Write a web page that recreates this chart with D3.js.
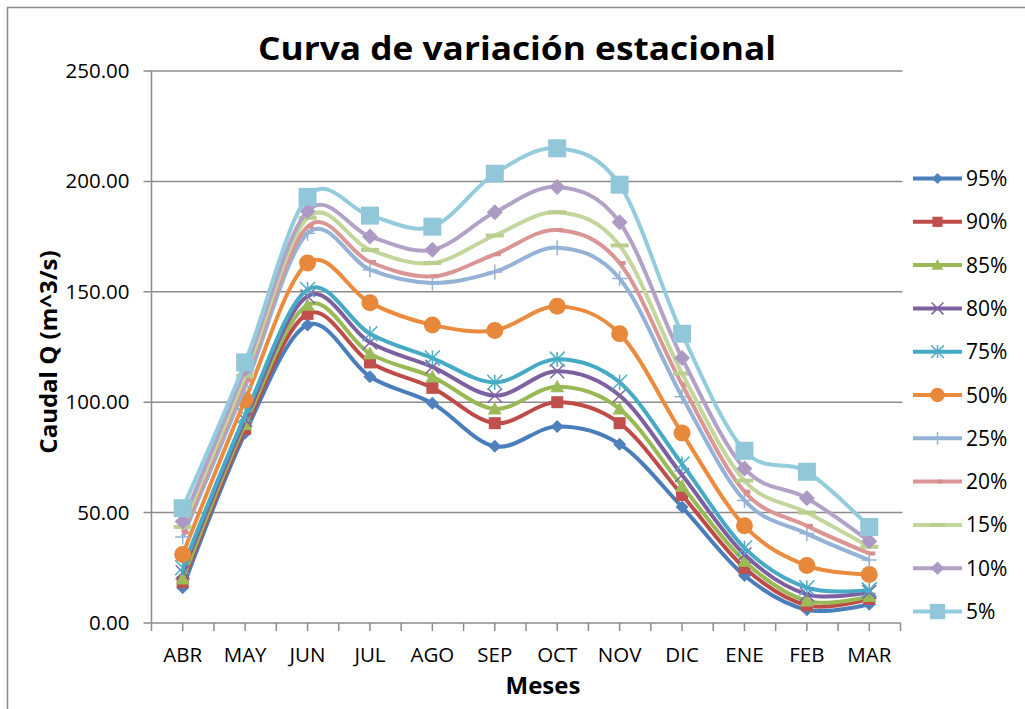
<!DOCTYPE html>
<html>
<head>
    <title>Curva de variación estacional</title>
    <script src="https://cdnjs.cloudflare.com/ajax/libs/d3/7.8.5/d3.min.js"></script>
    <style>
        body { margin: 0; background: #FFFFFF; }
        #chart text { font-family: "Open Sans", "DejaVu Sans", sans-serif; fill: #000; }
        .grid { stroke: #8c8c8c; stroke-width: 1.5px; }
        .axis-line { stroke: #8c8c8c; stroke-width: 1.5px; }
        .series-line { fill: none; stroke-width: 4px; }
    </style>
</head>
<body>
    <div id="chart"></div>
    <script>
const months = ['ABR', 'MAY', 'JUN', 'JUL', 'AGO', 'SEP', 'OCT', 'NOV', 'DIC', 'ENE', 'FEB', 'MAR'];
const seriesNames = ['95%', '90%', '85%', '80%', '75%', '50%', '25%', '20%', '15%', '10%', '5%'];

const q95 = [16, 86, 135, 111.5, 99.5, 80, 89, 81, 52.5, 21.5, 6, 8.5];
const q90 = [18.5, 88, 140, 118, 106.5, 90.5, 100, 90.5, 58, 25, 8, 11];
const q85 = [20, 90, 144, 122, 111.5, 97, 107, 97, 62, 28, 10, 12];
const q80 = [23, 92, 148, 127, 116, 103, 114, 103, 67, 31, 13, 14];
const q75 = [25, 94, 151, 131, 120, 109, 119.5, 109, 72, 34, 16, 15];
const q50 = [31, 101, 163, 145, 135, 132.5, 143.5, 131, 86, 44, 26, 22];
const q25 = [39, 107, 176.5, 160, 154, 159, 170, 156, 102.5, 55.5, 40.5, 28.5];
const q20 = [41, 110, 179.5, 163.5, 157, 167, 178, 163, 108, 59.5, 44, 31.5];
const q15 = [43.5, 112, 183.5, 169, 163, 175.5, 186, 171, 113, 64.5, 50, 34.5];
const q10 = [46, 115, 186.5, 175, 169, 186, 197.5, 181.5, 120, 70, 56.5, 37];
const q5 = [52, 118, 193, 184.5, 179.5, 203.5, 215, 198.5, 131, 78, 68.5, 43.5];

const yTicks = [0, 50, 100, 150, 200, 250];

const seriesValues = [q95, q90, q85, q80, q75, q50, q25, q20, q15, q10, q5];
const lineColors = ['#4A7EBB', '#BE4B48', '#98B954', '#7D60A0', '#46AAC5', '#EB8B3E',
                    '#95B3D7', '#D99694', '#C3D69B', '#B3A2C7', '#93CDDD'];
const markerColors = ['#4F81BD', '#C0504D', '#9BBB59', '#8064A2', '#4BACC6', '#E8883A',
                      '#95B3D7', '#D58F8C', '#B9CF8E', '#AC9AC4', '#92C6D9'];
const markerTypes = ['diamond', 'square', 'triangle', 'x', 'star', 'circle',
                     'plus', 'shortdash', 'dash', 'diamond', 'square'];
const markerSizes = [13, 12, 14, 14, 15, 17, 15, 12, 18, 16, 18];

const W = 1025, H = 709;
const plot = { left: 151.5, right: 900.5, top: 71, bottom: 623 };

const svg = d3.select('#chart').append('svg')
    .attr('width', W)
    .attr('height', H);

// chart frame
svg.append('rect')
    .attr('x', 7.5).attr('y', 7.5)
    .attr('width', 1040).attr('height', 740)
    .attr('fill', 'none')
    .attr('stroke', '#8c8c8c')
    .attr('stroke-width', 1.5);

const x = d3.scaleBand().domain(months).range([plot.left, plot.right]);
const xc = d => x(d) + x.bandwidth() / 2;
const y = d3.scaleLinear().domain([0, 250]).range([plot.bottom, plot.top]);

// gridlines
svg.append('g').selectAll('line')
    .data(yTicks.filter(t => t > 0))
    .join('line')
    .attr('class', 'grid')
    .attr('x1', plot.left - 8).attr('x2', plot.right + 2)
    .attr('y1', d => y(d)).attr('y2', d => y(d));

// y axis
svg.append('line').attr('class', 'axis-line')
    .attr('x1', plot.left).attr('x2', plot.left)
    .attr('y1', plot.top).attr('y2', plot.bottom);
svg.append('line').attr('class', 'axis-line')
    .attr('x1', plot.left - 8).attr('x2', plot.left)
    .attr('y1', y(0)).attr('y2', y(0));
svg.append('g').selectAll('text')
    .data(yTicks)
    .join('text')
    .attr('x', plot.left - 22)
    .attr('y', d => y(d) + 7)
    .attr('text-anchor', 'end')
    .style('font-size', '20.5px')
    .text(d => d.toFixed(2));

// x axis
svg.append('line').attr('class', 'axis-line')
    .attr('x1', plot.left).attr('x2', plot.right)
    .attr('y1', plot.bottom).attr('y2', plot.bottom);
const xTickPos = [];
months.forEach(m => { xTickPos.push(x(m)); xTickPos.push(xc(m)); });
xTickPos.push(plot.right);
svg.append('g').selectAll('line')
    .data(xTickPos)
    .join('line')
    .attr('class', 'axis-line')
    .attr('x1', d => d).attr('x2', d => d)
    .attr('y1', plot.bottom).attr('y2', plot.bottom + 8);
svg.append('g').selectAll('text')
    .data(months)
    .join('text')
    .attr('x', d => xc(d))
    .attr('y', 662)
    .attr('text-anchor', 'middle')
    .style('font-size', '20.5px')
    .text(d => d);

// titles
svg.append('text')
    .attr('x', 517).attr('y', 60)
    .attr('text-anchor', 'middle')
    .attr('textLength', 518)
    .attr('lengthAdjust', 'spacingAndGlyphs')
    .style('font-size', '33px').style('font-weight', 'bold')
    .text('Curva de variación estacional');
svg.append('text')
    .attr('x', 543).attr('y', 694)
    .attr('text-anchor', 'middle')
    .style('font-size', '24px').style('font-weight', 'bold')
    .text('Meses');
svg.append('text')
    .attr('transform', 'translate(57,352) rotate(-90)')
    .attr('text-anchor', 'middle')
    .style('font-size', '24px').style('font-weight', 'bold')
    .text('Caudal Q (m^3/s)');

// marker drawing
function drawMarker(sel, type, size, color) {
    const h = size / 2;
    if (type === 'diamond') {
        sel.append('path').attr('d', `M0,${-h}L${h},0L0,${h}L${-h},0Z`).attr('fill', color);
    } else if (type === 'square') {
        sel.append('rect').attr('x', -h).attr('y', -h).attr('width', size).attr('height', size).attr('fill', color);
    } else if (type === 'triangle') {
        sel.append('path').attr('d', `M0,${-h}L${h},${h * 0.8}L${-h},${h * 0.8}Z`).attr('fill', color);
    } else if (type === 'circle') {
        sel.append('circle').attr('r', h).attr('fill', color);
    } else if (type === 'x') {
        sel.append('path').attr('d', `M${-h},${-h}L${h},${h}M${-h},${h}L${h},${-h}`)
            .attr('stroke', color).attr('stroke-width', 1.5).attr('fill', 'none');
    } else if (type === 'star') {
        sel.append('path').attr('d', `M${-h},${-h}L${h},${h}M${-h},${h}L${h},${-h}M0,${-h}L0,${h}`)
            .attr('stroke', color).attr('stroke-width', 1.5).attr('fill', 'none');
    } else if (type === 'plus') {
        sel.append('path').attr('d', `M${-h},0L${h},0M0,${-h}L0,${h}`)
            .attr('stroke', color).attr('stroke-width', 1.5).attr('fill', 'none');
    } else if (type === 'dash') {
        sel.append('rect').attr('x', -h).attr('y', -2).attr('width', size).attr('height', 4).attr('fill', color);
    } else if (type === 'shortdash') {
        sel.append('rect').attr('x', 0).attr('y', -2).attr('width', h).attr('height', 4).attr('fill', color);
    }
}

const line = d3.line()
    .x((d, i) => xc(months[i]))
    .y(d => y(d))
    .curve(d3.curveCardinal.tension(0));

// series, drawn in order so 5% ends up on top
seriesValues.forEach((vals, s) => {
    const g = svg.append('g');
    g.append('path')
        .datum(vals)
        .attr('class', 'series-line')
        .attr('stroke', lineColors[s])
        .attr('d', line);
    g.selectAll('g.mk')
        .data(vals)
        .join('g')
        .attr('class', 'mk')
        .attr('transform', (d, i) => `translate(${xc(months[i])},${y(d)})`)
        .each(function () { drawMarker(d3.select(this), markerTypes[s], markerSizes[s], markerColors[s]); });
});

// legend
const legend = svg.append('g');
seriesNames.forEach((name, s) => {
    const ly = 178.5 + s * 43.3;
    legend.append('line')
        .attr('x1', 913).attr('x2', 962)
        .attr('y1', ly).attr('y2', ly)
        .attr('stroke', lineColors[s])
        .attr('stroke-width', 4);
    const mk = legend.append('g').attr('transform', `translate(937.5,${ly})`);
    drawMarker(mk, markerTypes[s], markerSizes[s] * 0.85, markerColors[s]);
    legend.append('text')
        .attr('x', 966).attr('y', ly + 7.5)
        .style('font-size', '21px')
        .text(name);
});
    </script>
</body>
</html>
